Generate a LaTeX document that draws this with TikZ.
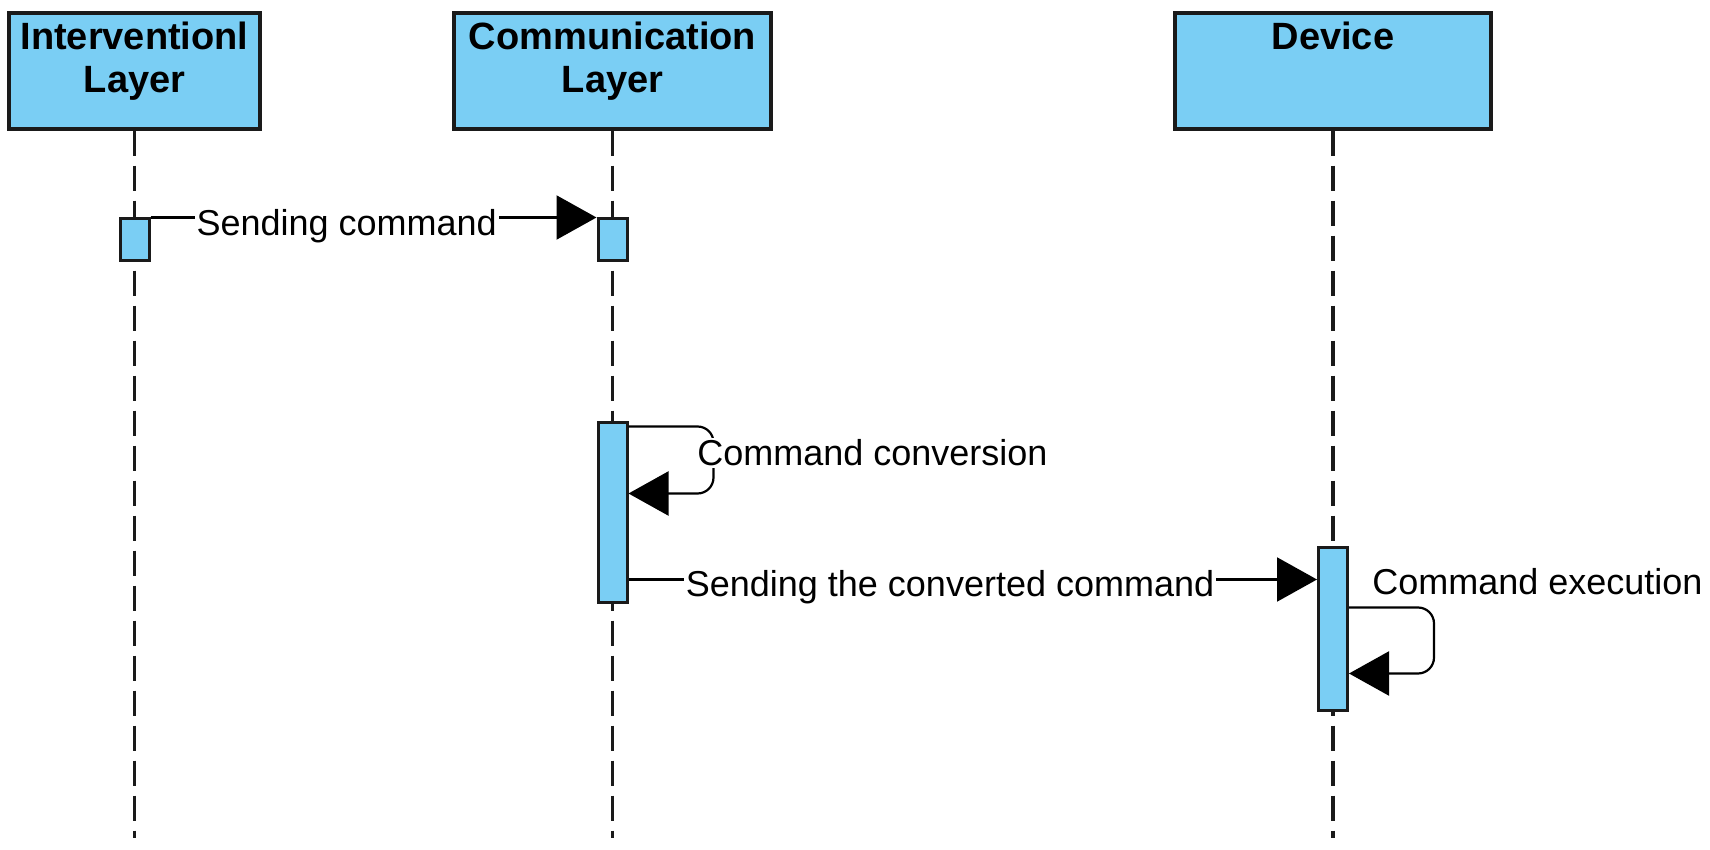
\documentclass[tikz,border=0pt]{standalone}
\usepackage{fontspec}
\setmainfont{Liberation Sans}
\usetikzlibrary{arrows.meta,calc}
\definecolor{lanefill}{RGB}{122,206,244}
\definecolor{lanedraw}{RGB}{26,26,26}

\begin{document}
\begin{tikzpicture}[x=0.5pt,y=-0.5pt,
  actor/.style={draw=lanedraw,fill=lanefill,line width=1.6pt,minimum height=58pt,inner sep=0pt},
  actortext/.style={anchor=north,align=center,inner sep=0pt,font=\fontsize{19}{21.5}\selectfont\bfseries},
  lifeline/.style={draw=lanedraw,line width=1.6pt,dash pattern=on 12.5pt off 5pt},
  activation/.style={draw=lanedraw,fill=lanefill,line width=1.5pt,minimum width=14.5pt,inner sep=0pt},
  msg/.style={line width=1.1pt,-{Triangle[length=20pt,width=22pt]}},
  msglabel/.style={fill=white,inner sep=1pt,font=\fontsize{18}{20}\selectfont}]
  \useasboundingbox (0,0) rectangle (1710,850);
  % actors
  \node[actor,minimum width=125.5pt] (ilayer) at (134.5,71) {};
  \node[actor,minimum width=158.5pt] (clayer) at (612.5,71) {};
  \node[actor,minimum width=158pt] (device) at (1333,71) {};
  \node[actortext] (ilayertext) at ($(ilayer.north)+(0,10)$) {Interventionl\\Layer};
  \node[actortext] (clayertext) at ($(clayer.north)+(0,10)$) {Communication\\Layer};
  \node[actortext] (devicetext) at ($(device.north)+(0,10)$) {Device};
  % lifelines
  \coordinate (iend) at (134.5,838);
  \coordinate (cend) at (612.5,838);
  \coordinate (dend) at (1333,838);
  \draw[lifeline] (ilayer.south) -- (iend);
  \draw[lifeline] (clayer.south) -- (cend);
  \draw[lifeline] (device.south) -- (dend);
  % activations
  \node[activation,minimum height=21pt] (iact) at (134.5,240) {};
  \node[activation,minimum height=21pt] (cact1) at (612.5,240) {};
  \node[activation,minimum height=89.5pt] (cact2) at (612.5,512.5) {};
  \node[activation,minimum height=81.5pt] (dact) at (1333,628.5) {};
  % messages
  \path[msg]
    (iact.north east) edge node[msglabel,pos=.44,yshift=-4.3pt] {Sending command} (cact1.north west);
  \coordinate (convstart) at ($(cact2.north east)+(0,5)$);
  \draw[msg,rounded corners=8pt] (convstart) -- ++(85,0) -- ++(0,67) -- ($(cact2.north east)+(0,72)$);
  \node[msglabel,anchor=base west] (convlabel) at (695,466) {Command conversion};
  \coordinate (sendstart) at ($(cact2.south east)+(0,-24)$);
  \path[msg]
    (sendstart) edge node[msglabel,pos=.467,yshift=-3.8pt] {Sending the converted command} (dact.west |- sendstart);
  \coordinate (execstart) at ($(dact.north east)+(0,62)$);
  \draw[msg,rounded corners=8pt] (execstart) -- ++(85,0) -- ++(0,66) -- ($(dact.north east)+(0,128)$);
  \node[msglabel,anchor=base west] (execlabel) at (1370,595) {Command execution};
\end{tikzpicture}
\end{document}
